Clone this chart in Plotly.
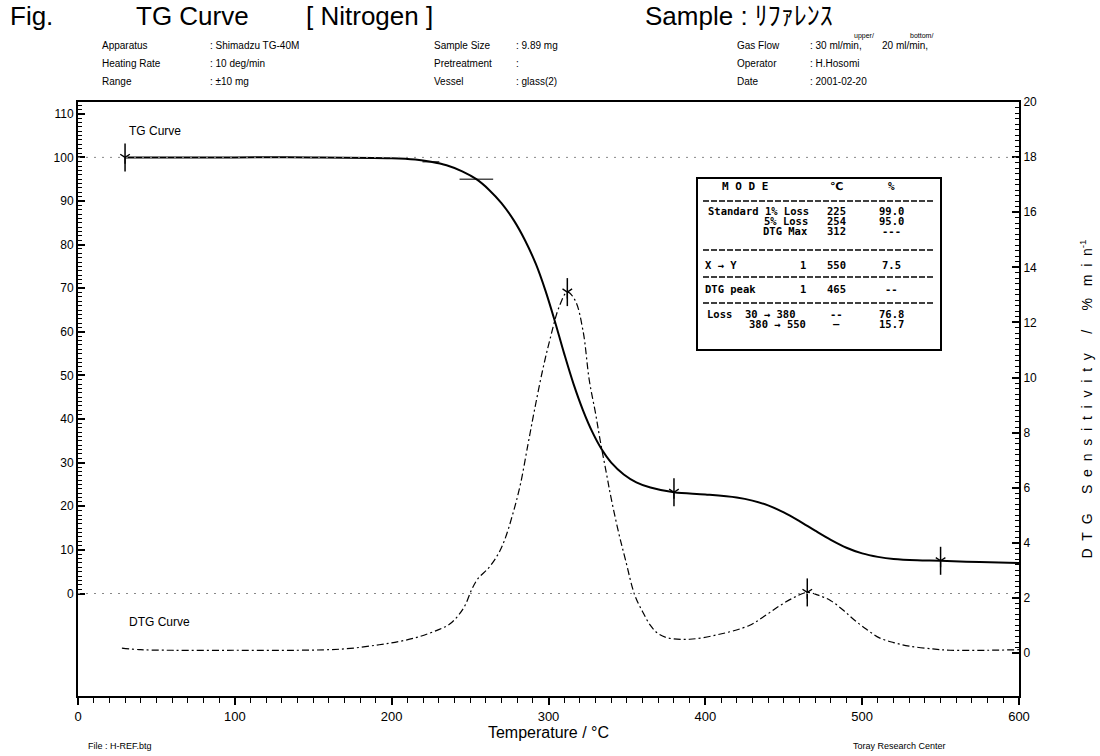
import plotly.graph_objects as go

# ---------------- data ----------------
tg_temp = [30, 60, 100, 150, 200, 215, 225, 235, 245, 254, 262, 270, 278, 285, 292, 298, 304, 310,
           316, 322, 328, 334, 340, 348, 356, 365, 380, 400, 420, 430, 440, 450, 460, 470, 480,
           490, 500, 510, 520, 535, 550, 575, 600]
tg_mass = [100.0, 100.0, 100.0, 100.0, 99.8, 99.5, 99.0, 98.2, 96.8, 95.0, 92.6, 89.5, 85.5, 81.0,
           75.5, 69.5, 62.5, 55.0, 48.0, 42.0, 37.0, 33.0, 30.0, 27.3, 25.5, 24.3, 23.2, 22.7, 22.0,
           21.3, 20.2, 18.6, 16.6, 14.4, 12.3, 10.5, 9.2, 8.4, 7.9, 7.6, 7.5, 7.2, 7.0]

dtg_temp = [28, 40, 60, 100, 140, 170, 192, 205, 218, 230, 237, 243, 247, 251, 255, 262, 268, 272,
            277, 282, 287, 291, 296, 301, 307, 312, 317, 322, 326, 330, 333, 337, 340, 345, 349,
            355, 360, 365, 370, 376, 390, 409, 428, 438, 447, 456, 465, 472, 480, 488, 495, 503,
            511, 520, 530, 545, 556, 580, 600]
dtg_rate = [0.18, 0.12, 0.10, 0.10, 0.10, 0.15, 0.30, 0.42, 0.60, 0.85, 1.05, 1.40, 1.75, 2.30,
            2.70, 3.10, 3.60, 4.10, 5.00, 6.10, 7.60, 8.80, 10.20, 11.40, 12.60, 13.10, 12.80,
            11.70, 9.90, 8.70, 7.70, 6.50, 5.60, 4.30, 3.40, 2.10, 1.50, 1.00, 0.70, 0.55, 0.50,
            0.68, 1.00, 1.35, 1.70, 2.00, 2.20, 2.10, 1.90, 1.55, 1.20, 0.85, 0.55, 0.38, 0.25,
            0.15, 0.10, 0.10, 0.12]

tg_mark_temp = [30, 380, 550]
tg_mark_mass = [100.0, 23.2, 7.5]
tg_loss_temp = [225, 254]
tg_loss_mass = [99.0, 95.0]
dtg_mark_temp = [312, 465]
dtg_mark_rate = [13.1, 2.2]

x_ticks = [0, 100, 200, 300, 400, 500, 600]
tg_ticks = [0, 10, 20, 30, 40, 50, 60, 70, 80, 90, 100, 110]
dtg_ticks = [0, 2, 4, 6, 8, 10, 12, 14, 16, 18, 20]

table_rows = [
    ("Standard 1% Loss", "", "225", "99.0"),
    ("5% Loss", "", "254", "95.0"),
    ("DTG Max", "", "312", "---"),
    ("X \u2192 Y", "1", "550", "7.5"),
    ("DTG peak", "1", "465", "--"),
    ("Loss  30 \u2192 380", "", "--", "76.8"),
    ("380 \u2192 550", "", "\u2014", "15.7"),
]

# ---------------- geometry helpers (pixel -> paper) ----------------
L, R, T, B = 78, 1019, 102, 696
W, H = R - L, B - T


def px(x):
    return (x - L) / W


def py(y):
    return (B - y) / H


SANS = "Liberation Sans, Arial, sans-serif"
MONO = "DejaVu Sans Mono, Liberation Mono, monospace"

fig = go.Figure()

# reference dotted lines (100 % and 0 %)
for lvl in (100, 0):
    fig.add_shape(type="line", xref="paper", x0=0, x1=1, yref="y", y0=lvl, y1=lvl,
                  line=dict(color="#888888", width=1, dash="2px,6px"))

fig.add_trace(go.Scatter(x=tg_temp, y=tg_mass, mode="lines", line=dict(color="black", width=2),
                         line_shape="spline", name="TG", yaxis="y"))
fig.add_trace(go.Scatter(x=dtg_temp, y=dtg_rate, mode="lines",
                         line=dict(color="black", width=1.2, dash="7px,3px,2px,3px"),
                         line_shape="spline", name="DTG", yaxis="y2"))

# markers
for xs, ys, ax in ((tg_mark_temp, tg_mark_mass, "y"), (dtg_mark_temp, dtg_mark_rate, "y2")):
    fig.add_trace(go.Scatter(x=xs, y=ys, mode="markers", yaxis=ax,
                             marker=dict(symbol="line-ns", size=20, color="black",
                                         line=dict(color="black", width=1.5))))
    fig.add_trace(go.Scatter(x=xs, y=ys, mode="markers", yaxis=ax,
                             marker=dict(symbol="y-down-open", size=8, color="black",
                                         line=dict(color="black", width=1.3))))
fig.add_trace(go.Scatter(x=tg_loss_temp, y=tg_loss_mass, mode="markers", yaxis="y",
                         marker=dict(symbol="line-ew", size=[12, 24], color="black",
                                     line=dict(color="black", width=1.5))))

ann = []


def text(x, y, s, size=10, anchor="left", font=SANS, color="black"):
    ann.append(dict(xref="paper", yref="paper", x=px(x), y=py(y), text=s, showarrow=False,
                    xanchor=anchor, yanchor="middle", font=dict(family=font, size=size, color=color)))


# header
text(8, 16, "Fig.", 26)
text(134, 16, "TG Curve", 26)
text(304, 16, "[ Nitrogen ]", 26)
text(643, 16, "Sample : \uff98\uff8c\uff67\uff9a\uff9d\uff7d", 26,
     font="Liberation Sans, Noto Sans CJK JP, sans-serif")

hdr = [
    (100, 208, [("Apparatus", ": Shimadzu TG-40M"), ("Heating Rate", ": 10 deg/min"), ("Range", ": \u00b110 mg")]),
    (432, 514, [("Sample Size", ": 9.89 mg"), ("Pretreatment", ":"), ("Vessel", ": glass(2)")]),
    (735, 808, [("Gas Flow", ": 30 ml/min,"), ("Operator", ": H.Hosomi"), ("Date", ": 2001-02-20")]),
]
for x1, x2, rows in hdr:
    for i, (k, v) in enumerate(rows):
        yy = 46 + i * 18
        text(x1, yy, k, 10)
        text(x2, yy, v, 10)
text(880, 46, "20 ml/min,", 10)
text(852, 36, "upper/", 7)
text(908, 36, "bottom/", 7)

# curve labels
text(127, 131, "TG Curve", 12)
text(127, 622, "DTG Curve", 12)

# footer
text(86, 746, "File : H-REF.btg", 9)
text(851, 746, "Toray Research Center", 9)

# table
fig.add_shape(type="rect", xref="paper", yref="paper", x0=px(697), x1=px(941), y0=py(178), y1=py(350),
              line=dict(color="black", width=2), fillcolor="white", layer="above")
for yy in (201, 250, 277, 303):
    fig.add_shape(type="line", xref="paper", yref="paper", x0=px(703), x1=px(935), y0=py(yy), y1=py(yy),
                  line=dict(color="black", width=1.5, dash="6px,2px"), layer="above")
text(745, 187, "<b>M O D E</b>", 11, "center", MONO)
text(836, 187, "<b>\u2103</b>", 11, "center", "DejaVu Sans, sans-serif")
text(891, 187, "<b>%</b>", 11, "center", MONO)
row_y = [211, 221, 231, 265, 289, 314, 324]
row_anchor = [("left", 706), ("right", 810), ("right", 810), ("left", 703), ("left", 703), ("left", 705), ("right", 808)]
for (lab, one, c, p), yy, (anc, xx) in zip(table_rows, row_y, row_anchor):
    text(xx, yy, "<b>" + lab + "</b>", 10.5, anc, MONO)
    if one:
        text(803, yy, "<b>" + one + "</b>", 10.5, "center", MONO)
    text(836, yy, "<b>" + c + "</b>", 10.5, "center", MONO)
    text(891, yy, "<b>" + p + "</b>", 10.5, "center", MONO)

nb = "\u00a0"
gap = nb * 2
ytitle2 = (gap.join("DTG") + nb * 5 + gap.join("Sensitivity") + nb * 5 + "/" + nb * 5 + "%" + nb * 3
           + gap.join("min") + "<sup>-1</sup>")

fig.update_layout(
    width=1100, height=756, autosize=False,
    margin=dict(l=L, r=1100 - R, t=T, b=756 - B, pad=0),
    paper_bgcolor="white", plot_bgcolor="white", showlegend=False,
    font=dict(family=SANS, color="black", size=12),
    annotations=ann,
    xaxis=dict(range=[0, 600], tickvals=x_ticks, ticks="outside", ticklen=7, tickwidth=1.5,
               tickcolor="black", showline=True, linecolor="black", linewidth=2, mirror=True,
               showgrid=False, zeroline=False, tickfont=dict(size=13), automargin=False,
               minor=dict(dtick=10, tick0=0, ticks="outside", ticklen=5, tickcolor="black", tickwidth=1.2),
               title=dict(text="Temperature / \u00b0C", font=dict(size=16), standoff=4)),
    yaxis=dict(range=[-23.5, 112.7], tickvals=tg_ticks, ticks="inside", ticklen=7, tickwidth=1.5,
               tickcolor="black", showline=True, linecolor="black", linewidth=2, automargin=False,
               showgrid=False, zeroline=False, tickfont=dict(size=12),
               minor=dict(tickmode="array", tickvals=list(range(0, 113)), ticks="inside", ticklen=4,
                          tickcolor="black", tickwidth=1)),
    yaxis2=dict(range=[-1.56, 20.0], tickvals=dtg_ticks, ticks="inside", ticklen=7, tickwidth=1.5,
                tickcolor="black", overlaying="y", side="right", showline=True, linecolor="black",
                linewidth=2, showgrid=False, zeroline=False, tickfont=dict(size=12), automargin=False,
                minor=dict(tickmode="array", tickvals=[round(i * 0.2, 1) for i in range(0, 101)],
                           ticks="inside", ticklen=4, tickcolor="black", tickwidth=1),
                title=dict(text=ytitle2, font=dict(size=14), standoff=46)),
)

fig.write_html("out.html", config={"displayModeBar": False},
               post_script="document.body.style.margin='0';")
